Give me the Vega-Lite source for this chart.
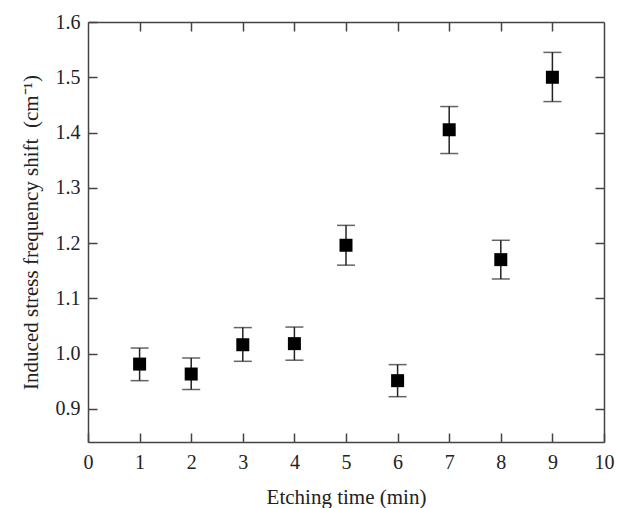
{
  "$schema": "https://vega.github.io/schema/vega-lite/v6.json",
  "autosize": "none",
  "width": 516,
  "height": 420,
  "padding": {"left": 88, "top": 22, "right": 16, "bottom": 66},
  "background": "white",
  "config": {
    "view": {"stroke": null},
    "font": "Liberation Serif",
    "axis": {
      "grid": false,
      "domainColor": "#444",
      "domainWidth": 1.5,
      "tickColor": "#444",
      "tickWidth": 1.5,
      "tickSize": -9,
      "labelFlush": false,
      "labelOverlap": false,
      "labelFont": "Liberation Serif",
      "labelFontSize": 20,
      "labelColor": "#222",
      "titleFont": "Liberation Serif",
      "titleFontSize": 21,
      "titleFontWeight": "normal",
      "titleColor": "#222"
    }
  },
  "data": {
    "values": [
      {"t": 1, "v": 0.981, "lo": 0.951, "hi": 1.010},
      {"t": 2, "v": 0.963, "lo": 0.935, "hi": 0.992},
      {"t": 3, "v": 1.016, "lo": 0.986, "hi": 1.047},
      {"t": 4, "v": 1.018, "lo": 0.988, "hi": 1.048},
      {"t": 5, "v": 1.196, "lo": 1.160, "hi": 1.232},
      {"t": 6, "v": 0.951, "lo": 0.922, "hi": 0.980},
      {"t": 7, "v": 1.405, "lo": 1.362, "hi": 1.447},
      {"t": 8, "v": 1.170, "lo": 1.135, "hi": 1.205},
      {"t": 9, "v": 1.500, "lo": 1.456, "hi": 1.545}
    ]
  },
  "resolve": {"axis": {"x": "independent", "y": "independent"}},
  "layer": [
    {
      "mark": {"type": "rule", "color": "#222", "strokeWidth": 1.5},
      "encoding": {
        "x": {"field": "t", "type": "quantitative", "scale": {"domain": [0, 10], "nice": false},
              "axis": {"values": [0,1,2,3,4,5,6,7,8,9,10], "title": "Etching time (min)", "labelPadding": 19, "titlePadding": 14, "format": "d"}},
        "y": {"field": "lo", "type": "quantitative", "scale": {"domain": [0.84, 1.6], "nice": false, "zero": false},
              "axis": {"values": [0.9,1.0,1.1,1.2,1.3,1.4,1.5,1.6], "format": ".1f", "title": "Induced stress frequency shift \u00a0(cm⁻¹)", "labelPadding": 17, "titlePadding": 14}},
        "y2": {"field": "hi"}
      }
    },
    {
      "mark": {"type": "tick", "orient": "horizontal", "color": "#222", "size": 18, "thickness": 1.5},
      "encoding": {
        "x": {"field": "t", "type": "quantitative", "axis": {"orient": "top", "values": [1,2,3,4,5,6,7,8,9], "labels": false, "title": null}},
        "y": {"field": "lo", "type": "quantitative", "axis": {"orient": "right", "values": [0.9,1.0,1.1,1.2,1.3,1.4,1.5], "labels": false, "title": null}}
      }
    },
    {
      "mark": {"type": "tick", "orient": "horizontal", "color": "#222", "size": 18, "thickness": 1.5},
      "encoding": {
        "x": {"field": "t", "type": "quantitative", "axis": null},
        "y": {"field": "hi", "type": "quantitative", "axis": null}
      }
    },
    {
      "mark": {"type": "point", "shape": "square", "filled": true, "color": "#000", "size": 169, "opacity": 1},
      "encoding": {
        "x": {"field": "t", "type": "quantitative", "axis": null},
        "y": {"field": "v", "type": "quantitative", "axis": null}
      }
    }
  ]
}
